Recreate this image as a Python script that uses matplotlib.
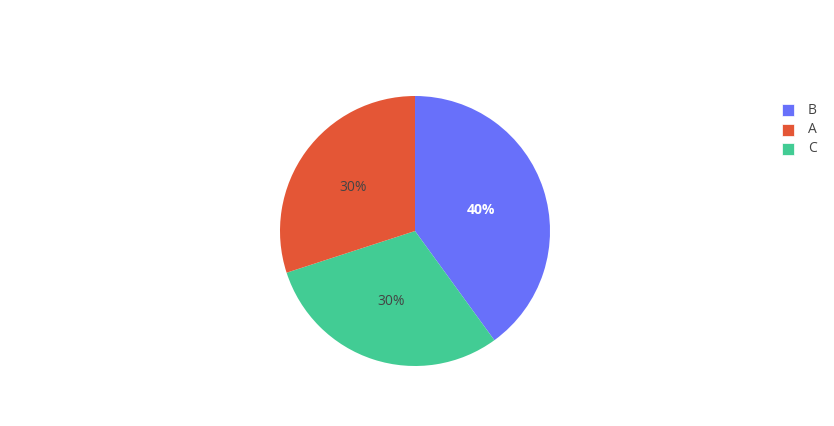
import matplotlib.pyplot as plt
from matplotlib.patches import Rectangle

plt.rcParams['font.family'] = ['Open Sans', 'DejaVu Sans']

categories = ['B', 'A', 'C']
values = [40, 30, 30]
colors = {'B': '#6870fa', 'A': '#e45636', 'C': '#42cc94'}

# slice order as drawn (clockwise from top)
order = ['B', 'C', 'A']
vals = [values[categories.index(k)] for k in order]

W, H = 834, 426
fig = plt.figure(figsize=(W / 100, H / 100), dpi=100)
fig.patch.set_facecolor('white')

cx, cy, r = 415, 231, 135
ax = fig.add_axes([(cx - r) / W, (H - cy - r) / H, 2 * r / W, 2 * r / H])
wedges, texts, autotexts = ax.pie(
    vals, colors=[colors[k] for k in order], startangle=90, counterclock=False,
    autopct='%1.0f%%', pctdistance=0.54, radius=1,
    wedgeprops=dict(linewidth=0),
    textprops=dict(fontsize=10, color='#444444'))
for k, t in zip(order, autotexts):
    if k == 'B':
        t.set_color('white')
        t.set_fontweight('bold')
        t.set_position((0.49, 0.155))
    elif k == 'A':
        t.set_position((-0.455, 0.325))
    else:
        t.set_position((-0.18, -0.52))
ax.set_xlim(-1, 1)
ax.set_ylim(-1, 1)
ax.set_aspect('equal')

# legend
for i, k in enumerate(categories):
    y = 110 + i * 19.5
    fig.patches.append(Rectangle((782 / W, (H - y - 6) / H), 12 / W, 12 / H,
                                 transform=fig.transFigure, facecolor=colors[k],
                                 edgecolor='white', linewidth=0.5))
    fig.text(808 / W, (H - y) / H, k, fontsize=10, color='#444444',
             ha='left', va='center')

fig.savefig('out.png', dpi=100)
